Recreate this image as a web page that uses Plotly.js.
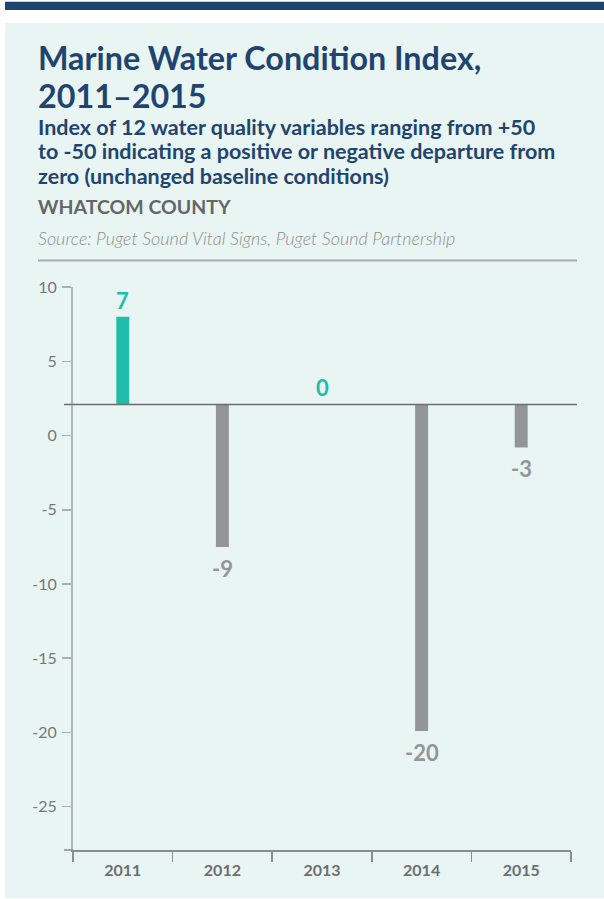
<!DOCTYPE html>
<html>
<head>
<meta charset="utf-8">
<script src="https://cdn.plot.ly/plotly-3.0.1.min.js"></script>
<style>
  html, body { margin: 0; padding: 0; background: #ffffff; }
  #chart { width: 604px; height: 899px; }
</style>
</head>
<body>
<div id="chart"></div>
<script>
// ---- data ----
var years = ["2011", "2012", "2013", "2014", "2015"];
var indexValues = [7, -9, 0, -20, -3];          // printed labels
var barEnds = [8.0, -7.5, 2.1, -19.9, -0.8];    // where each bar ends on the drawn axis
var baseline = 2.1;                              // drawn baseline on the axis
var yTickVals = [10, 5, 0, -5, -10, -15, -20, -25];

var titleLines = ["Marine Water Condition Index,", "2011\u20132015"];
var subtitleLines = [
  "Index of 12 water quality variables ranging from +50",
  "to -50 indicating a positive or negative departure from",
  "zero (unchanged baseline conditions)"
];
var regionLabel = "WHATCOM COUNTY";
var sourceLabel = "Source: Puget Sound Vital Signs, Puget Sound Partnership";

// ---- layout geometry ----
var W = 604, H = 899;
var M = { l: 73, r: 33, t: 287, b: 49 };
var PW = W - M.l - M.r, PH = H - M.t - M.b;
function px(x) { return (x - M.l) / PW; }
function py(y) { return (H - M.b - y) / PH; }

var teal = "#21bdab", gray = "#939598", navy = "#1f4470", txtGray = "#6d6e71";

var barColors = indexValues.map(function (v) { return v > 0 ? teal : gray; });

var trace = {
  type: "bar",
  x: years,
  y: barEnds.map(function (e) { return e - baseline; }),
  base: years.map(function () { return baseline; }),
  width: 0.13,
  marker: { color: barColors, line: { width: 0 } },
  hoverinfo: "skip"
};

var annotations = [];
// chart heading texts
annotations.push({ xref: "paper", yref: "paper", x: px(36), y: py(58), xanchor: "left", yanchor: "middle",
  text: titleLines[0], showarrow: false, font: { family: "Lato", size: 32.3, color: navy, weight: 700 } });
annotations.push({ xref: "paper", yref: "paper", x: px(36), y: py(96), xanchor: "left", yanchor: "middle",
  text: titleLines[1], showarrow: false, font: { family: "Lato", size: 32.3, color: navy, weight: 700 } });
var subY = [127, 151, 176];
subtitleLines.forEach(function (t, i) {
  annotations.push({ xref: "paper", yref: "paper", x: px(36), y: py(subY[i]), xanchor: "left", yanchor: "middle",
    text: t, showarrow: false, font: { family: "Lato", size: 21.5, color: navy, weight: 700 } });
});
annotations.push({ xref: "paper", yref: "paper", x: px(36), y: py(206), xanchor: "left", yanchor: "middle",
  text: regionLabel, showarrow: false, font: { family: "Lato", size: 19.5, color: "#666666", weight: 700 } });
annotations.push({ xref: "paper", yref: "paper", x: px(36), y: py(238), xanchor: "left", yanchor: "middle",
  text: sourceLabel, showarrow: false, font: { family: "Lato", size: 18, color: "#8f8f8f", weight: 300, style: "italic" } });

// value labels (x given as category index)
years.forEach(function (yr, i) {
  var v = indexValues[i];
  var pos = v >= 0;
  annotations.push({ x: i, y: barEnds[i], xref: "x", yref: "y",
    xanchor: "center", yanchor: pos ? "bottom" : "top", yshift: pos ? 1 : -6,
    text: String(v), showarrow: false,
    font: { family: "Lato", size: 22, color: pos ? teal : gray, weight: 700 } });
});

var shapes = [
  // panel background
  { type: "rect", xref: "paper", yref: "paper", x0: px(5), x1: px(604), y0: py(898), y1: py(22.7),
    fillcolor: "#e8f5f2", line: { width: 0 }, layer: "below" },
  // top band
  { type: "rect", xref: "paper", yref: "paper", x0: px(5), x1: px(604), y0: py(10), y1: py(1.7),
    fillcolor: navy, line: { width: 0 }, layer: "below" },
  // separator rule
  { type: "line", xref: "paper", yref: "paper", x0: px(38), x1: px(577), y0: py(260.5), y1: py(260.5),
    line: { color: "#a8acab", width: 2 } },
  // x axis extension to the left
  { type: "line", xref: "paper", yref: "paper", x0: px(64), x1: 0, y0: 0, y1: 0,
    line: { color: "#8a8c8e", width: 1.5 } },
  // baseline
  { type: "line", xref: "paper", yref: "y", x0: px(64), x1: px(577), y0: baseline, y1: baseline,
    line: { color: "#6d6e71", width: 1.5 }, layer: "above" }
];

var layout = {
  width: W, height: H,
  margin: M,
  paper_bgcolor: "#ffffff",
  plot_bgcolor: "rgba(0,0,0,0)",
  showlegend: false,
  font: { family: "Lato", color: txtGray },
  xaxis: {
    type: "category",
    range: [-0.5, years.length - 0.5],
    tickson: "boundaries",
    ticks: "outside", ticklen: 10, tickwidth: 1.5, tickcolor: "#8a8c8e",
    showline: true, linecolor: "#8a8c8e", linewidth: 1.5,
    showgrid: false, zeroline: false,
    tickangle: 0,
    ticklabelstandoff: 5,
    tickfont: { family: "Lato", size: 16, color: txtGray, weight: 700 },
    fixedrange: true
  },
  yaxis: {
    range: [-27.92, 10.01],
    tickmode: "array",
    tickvals: yTickVals,
    ticktext: yTickVals.map(function (v) { return String(v); }),
    ticks: "outside", ticklen: 9, tickwidth: 1.5, tickcolor: "#aab1b0",
    showline: true, linecolor: "#b0b7b6", linewidth: 2,
    showgrid: false, zeroline: false,
    tickfont: { family: "Lato", size: 16, color: "#777777" },
    ticklabelstandoff: 2,
    fixedrange: true
  },
  annotations: annotations,
  shapes: shapes
};

Plotly.newPlot("chart", [trace], layout, { displayModeBar: false, staticPlot: true });
</script>
</body>
</html>
